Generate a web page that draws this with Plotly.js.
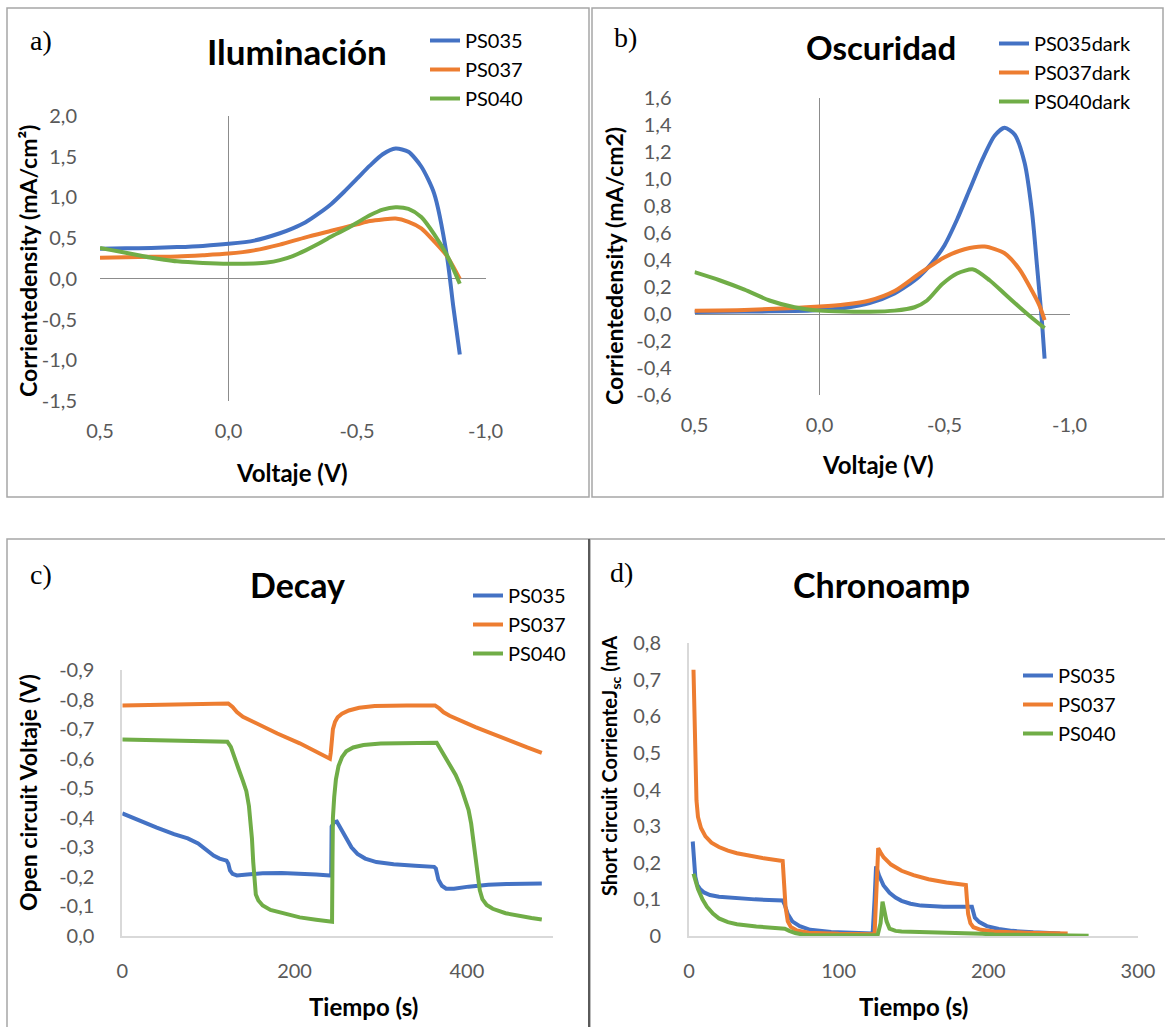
<!DOCTYPE html>
<html>
<head>
<meta charset="utf-8">
<script src="https://cdn.plot.ly/plotly-3.0.1.min.js"></script>
<style>html,body{margin:0;padding:0;background:#fff;}#chart{width:1165px;height:1027px;}</style>
</head>
<body>
<div id="chart"></div>
<script>
// ---------- Panel a: Iluminación (Voltaje V, Corriente density mA/cm2) ----------
const aV035 = [0.5, 0.4, 0.3, 0.2, 0.1, 0.0, -0.1, -0.2, -0.25, -0.3, -0.35, -0.4, -0.45, -0.5, -0.55, -0.6, -0.65, -0.7, -0.75, -0.8, -0.85, -0.875, -0.9];
const aJ035 = [0.37, 0.375, 0.38, 0.39, 0.405, 0.43, 0.47, 0.56, 0.62, 0.695, 0.80, 0.92, 1.07, 1.23, 1.39, 1.53, 1.60, 1.56, 1.38, 1.05, 0.28, -0.35, -0.93];
const aV037 = [0.5, 0.4, 0.3, 0.2, 0.1, 0.0, -0.1, -0.2, -0.3, -0.4, -0.5, -0.55, -0.6, -0.65, -0.7, -0.75, -0.8, -0.85, -0.9];
const aJ037 = [0.26, 0.265, 0.27, 0.275, 0.29, 0.31, 0.35, 0.42, 0.51, 0.59, 0.67, 0.71, 0.73, 0.74, 0.70, 0.62, 0.46, 0.28, 0.0];
const aV040 = [0.5, 0.45, 0.4, 0.35, 0.3, 0.25, 0.2, 0.1, 0.0, -0.1, -0.15, -0.2, -0.25, -0.3, -0.35, -0.4, -0.45, -0.5, -0.55, -0.6, -0.65, -0.7, -0.75, -0.8, -0.85, -0.9];
const aJ040 = [0.38, 0.35, 0.32, 0.29, 0.26, 0.235, 0.215, 0.195, 0.185, 0.19, 0.2, 0.23, 0.28, 0.35, 0.43, 0.52, 0.60, 0.69, 0.78, 0.85, 0.88, 0.86, 0.76, 0.55, 0.29, -0.06];

// ---------- Panel b: Oscuridad ----------
const bV035 = [0.5, 0.3, 0.1, 0.0, -0.1, -0.2, -0.3, -0.35, -0.4, -0.45, -0.5, -0.55, -0.6, -0.65, -0.7, -0.74, -0.78, -0.82, -0.85, -0.87, -0.89, -0.9];
const bJ035 = [0.015, 0.018, 0.022, 0.03, 0.045, 0.08, 0.153, 0.21, 0.28, 0.38, 0.51, 0.70, 0.92, 1.14, 1.32, 1.38, 1.33, 1.12, 0.75, 0.35, -0.07, -0.33];
const bV037 = [0.5, 0.3, 0.1, 0.0, -0.1, -0.2, -0.3, -0.4, -0.5, -0.58, -0.66, -0.74, -0.8, -0.85, -0.88, -0.9];
const bJ037 = [0.025, 0.03, 0.045, 0.055, 0.07, 0.1, 0.17, 0.3, 0.42, 0.48, 0.5, 0.45, 0.33, 0.17, 0.06, -0.045];
const bV040 = [0.5, 0.4, 0.3, 0.2, 0.1, 0.0, -0.1, -0.2, -0.3, -0.38, -0.43, -0.49, -0.55, -0.615, -0.68, -0.74, -0.8, -0.85, -0.9];
const bJ040 = [0.31, 0.25, 0.18, 0.1, 0.05, 0.025, 0.018, 0.017, 0.025, 0.05, 0.1, 0.22, 0.3, 0.33, 0.25, 0.15, 0.05, -0.03, -0.105];

// ---------- Panel c: Decay (Tiempo s, Open circuit Voltaje V) ----------
const cT035 = [0, 20, 40, 60, 76, 88, 98, 106, 113, 121, 123, 125, 128, 133, 145, 163, 185, 206, 225, 241, 242.5, 243, 246, 249, 254, 260, 266, 273, 282, 295, 315, 340, 362, 364, 367, 371, 376, 385, 402, 425, 446, 487];
const cV035 = [-0.415, -0.39, -0.367, -0.345, -0.33, -0.313, -0.292, -0.272, -0.262, -0.255, -0.245, -0.222, -0.21, -0.205, -0.208, -0.212, -0.213, -0.212, -0.208, -0.205, -0.205, -0.37, -0.385, -0.387, -0.36, -0.33, -0.30, -0.278, -0.262, -0.25, -0.243, -0.238, -0.234, -0.228, -0.19, -0.17, -0.16, -0.16, -0.167, -0.173, -0.176, -0.178];
const cT037 = [0, 60, 123, 128, 133, 140, 150, 163, 180, 206, 225, 241, 242, 243, 244.5, 247, 250, 255, 263, 275, 293, 330, 363, 368, 373, 380, 395, 410, 424, 450, 470, 487];
const cV037 = [-0.78, -0.785, -0.787, -0.775, -0.758, -0.742, -0.727, -0.708, -0.685, -0.652, -0.625, -0.60, -0.62, -0.66, -0.70, -0.725, -0.74, -0.752, -0.763, -0.772, -0.778, -0.78, -0.78, -0.77, -0.757, -0.745, -0.725, -0.707, -0.691, -0.66, -0.638, -0.62];
const cT040 = [0, 60, 122, 126, 130, 135, 140, 144, 147, 149, 150.5, 152, 153.5, 155, 158, 163, 172, 190, 206, 225, 243, 243.5, 244, 244.5, 246, 248, 251, 255, 260, 268, 280, 300, 365, 370, 375, 380, 387, 393, 398, 402, 405, 408, 410.5, 413, 415, 418, 423, 430, 445, 460, 475, 487];
const cV040 = [-0.665, -0.662, -0.657, -0.64, -0.61, -0.565, -0.525, -0.49, -0.44, -0.39, -0.33, -0.25, -0.18, -0.14, -0.12, -0.103, -0.088, -0.073, -0.063, -0.055, -0.048, -0.048, -0.25, -0.40, -0.47, -0.53, -0.575, -0.605, -0.625, -0.638, -0.646, -0.651, -0.654, -0.63, -0.605, -0.584, -0.545, -0.505, -0.46, -0.426, -0.38, -0.32, -0.26, -0.20, -0.155, -0.125, -0.105, -0.092, -0.077, -0.068, -0.061, -0.056];

// ---------- Panel d: Chronoamp (Tiempo s, Short circuit Jsc mA) ----------
const dT035 = [2.5, 3.5, 4.2, 5.5, 7.4, 10, 14, 20, 30, 44, 62.6, 64, 66, 69, 74, 81, 95, 110, 122.7, 124, 125, 127, 130, 134, 138, 142, 148, 155, 170, 189, 190, 191, 194, 199, 207, 216, 230, 248];
const dI035 = [0.258, 0.2, 0.162, 0.14, 0.128, 0.119, 0.112, 0.107, 0.103, 0.10, 0.097, 0.085, 0.06, 0.04, 0.027, 0.017, 0.011, 0.008, 0.007, 0.1, 0.19, 0.165, 0.138, 0.118, 0.105, 0.096, 0.088, 0.083, 0.08, 0.08, 0.065, 0.05, 0.038, 0.027, 0.019, 0.014, 0.01, 0.007];
const dT037 = [3, 3.5, 4, 5, 6, 8, 11, 15, 20, 26, 32, 40, 50, 62.6, 63.5, 64.5, 66, 68, 72, 80, 100, 124, 125.5, 126.4, 128, 130, 135, 142, 150, 160, 172, 185, 185.7, 186.5, 188, 190, 195, 204, 225, 253];
const dI037 = [0.727, 0.6, 0.48, 0.37, 0.325, 0.295, 0.272, 0.255, 0.243, 0.233, 0.226, 0.219, 0.212, 0.205, 0.15, 0.08, 0.04, 0.025, 0.015, 0.009, 0.006, 0.005, 0.15, 0.24, 0.228, 0.215, 0.195, 0.178, 0.166, 0.155, 0.146, 0.139, 0.1, 0.06, 0.035, 0.024, 0.017, 0.012, 0.009, 0.007];
const dT040 = [3, 4, 6, 9, 12, 16, 20, 26, 32, 45, 64, 67, 71, 76, 81, 126, 128, 129.3, 130.5, 132, 134, 138, 142, 188, 196, 204, 267];
const dI040 = [0.17, 0.155, 0.128, 0.1, 0.08, 0.061, 0.048, 0.038, 0.032, 0.026, 0.02, 0.014, 0.008, 0.004, 0.002, 0.002, 0.035, 0.094, 0.07, 0.04, 0.02, 0.014, 0.012, 0.009, 0.006, 0.004, 0.001];

// ---------- Tick labels ----------
const abXVals = [0.5, 0.0, -0.5, -1.0];
const abXText = ["0,5", "0,0", "-0,5", "-1,0"];
const aYVals = [2.0, 1.5, 1.0, 0.5, 0.0, -0.5, -1.0, -1.5];
const aYText = ["2,0", "1,5", "1,0", "0,5", "0,0", "-0,5", "-1,0", "-1,5"];
const bYVals = [1.6, 1.4, 1.2, 1.0, 0.8, 0.6, 0.4, 0.2, 0.0, -0.2, -0.4, -0.6];
const bYText = ["1,6", "1,4", "1,2", "1,0", "0,8", "0,6", "0,4", "0,2", "0,0", "-0,2", "-0,4", "-0,6"];
const cXVals = [0, 200, 400];
const cXText = ["0", "200", "400"];
const cYVals = [-0.9, -0.8, -0.7, -0.6, -0.5, -0.4, -0.3, -0.2, -0.1, 0.0];
const cYText = ["-0,9", "-0,8", "-0,7", "-0,6", "-0,5", "-0,4", "-0,3", "-0,2", "-0,1", "0,0"];
const dXVals = [0, 100, 200, 300];
const dXText = ["0", "100", "200", "300"];
const dYVals = [0.8, 0.7, 0.6, 0.5, 0.4, 0.3, 0.2, 0.1, 0.0];
const dYText = ["0,8", "0,7", "0,6", "0,5", "0,4", "0,3", "0,2", "0,1", "0"];

const namesABC = ["PS035", "PS037", "PS040"];
const namesB = ["PS035dark", "PS037dark", "PS040dark"];

// ---------- Build ----------
const W = 1165, H = 1027;
const px = v => v / W;
const py = v => 1 - v / H;
const COLORS = ["#4472C4", "#ED7D31", "#70AD47"];
const FONT = "Lato, 'Open Sans', sans-serif";

function tr(x, y, name, ci, xa, ya, leg, shape) {
  return {x: x, y: y, name: name, type: "scatter", mode: "lines",
    xaxis: xa, yaxis: ya, legend: leg,
    line: {color: COLORS[ci], width: 4, shape: shape || "linear", smoothing: 0.7}};
}
const data = [
  tr(aV035, aJ035, namesABC[0], 0, "x", "y", "legend", "spline"),
  tr(aV037, aJ037, namesABC[1], 1, "x", "y", "legend", "spline"),
  tr(aV040, aJ040, namesABC[2], 2, "x", "y", "legend", "spline"),
  tr(bV035, bJ035, namesB[0], 0, "x2", "y2", "legend2", "spline"),
  tr(bV037, bJ037, namesB[1], 1, "x2", "y2", "legend2", "spline"),
  tr(bV040, bJ040, namesB[2], 2, "x2", "y2", "legend2", "spline"),
  tr(cT035, cV035, namesABC[0], 0, "x3", "y3", "legend3"),
  tr(cT037, cV037, namesABC[1], 1, "x3", "y3", "legend3"),
  tr(cT040, cV040, namesABC[2], 2, "x3", "y3", "legend3"),
  tr(dT035, dI035, namesABC[0], 0, "x4", "y4", "legend4"),
  tr(dT037, dI037, namesABC[1], 1, "x4", "y4", "legend4"),
  tr(dT040, dI040, namesABC[2], 2, "x4", "y4", "legend4")
];

const tickFont = {family: FONT, size: 20, color: "#595959"};
function xax(dom, anchor, range, vals, text, line) {
  return {domain: dom, anchor: anchor, range: range, tickmode: "array", tickvals: vals, ticktext: text,
    showgrid: false, zeroline: !line, zerolinecolor: "#8c8c8c", zerolinewidth: 1,
    showline: !!line, linecolor: "#d9d9d9", linewidth: 2,
    ticks: "", ticklabelstandoff: 16, tickfont: tickFont, fixedrange: true};
}
function yax(dom, anchor, range, vals, text, line) {
  return {domain: dom, anchor: anchor, range: range, tickmode: "array", tickvals: vals, ticktext: text,
    showgrid: false, zeroline: !line, zerolinecolor: "#8c8c8c", zerolinewidth: 1,
    showline: !!line, linecolor: "#d9d9d9", linewidth: 2,
    ticks: "", ticklabelstandoff: 22, tickfont: tickFont, fixedrange: true};
}
function leg(x, y) {
  return {x: px(x), y: py(y), xanchor: "left", yanchor: "top", bgcolor: "rgba(0,0,0,0)",
    font: {family: FONT, size: 20, color: "#000"}, itemwidth: 30, tracegroupgap: 0};
}
function ann(text, x, y, size, opts) {
  return Object.assign({text: text, x: px(x), y: py(y), xref: "paper", yref: "paper",
    xanchor: "center", yanchor: "middle", showarrow: false,
    font: {family: FONT, size: size, color: "#000"}}, opts || {});
}
const serif = {family: "'Liberation Serif', 'Times New Roman', serif", size: 28, color: "#000"};

const layout = {
  width: W, height: H, margin: {l: 0, r: 0, t: 0, b: 0},
  paper_bgcolor: "#fff", plot_bgcolor: "rgba(0,0,0,0)", showlegend: true,
  xaxis: xax([px(100), px(485.5)], "y", [0.5, -1.0], abXVals, abXText),
  yaxis: yax([py(401), py(116)], "x", [-1.5, 2.0], aYVals, aYText),
  xaxis2: xax([px(694.5), px(1069.6)], "y2", [0.5, -1.0], abXVals, abXText),
  yaxis2: yax([py(395), py(98)], "x2", [-0.6, 1.6], bYVals, bYText),
  xaxis3: xax([px(122.3), px(553)], "y3", [0, 500], cXVals, cXText, true),
  yaxis3: yax([py(936), py(670)], "x3", [0, -0.9], cYVals, cYText, true),
  xaxis4: xax([px(689), px(1138)], "y4", [0, 300], dXVals, dXText, true),
  yaxis4: yax([py(936), py(643)], "x4", [0, 0.8], dYVals, dYText, true),
  legend: leg(425, 21),
  legend2: leg(994, 24),
  legend3: leg(468, 576),
  legend4: leg(1018, 656),
  annotations: [
    Object.assign(ann("a)", 41, 41, 28), {font: serif}),
    Object.assign(ann("b)", 625, 38, 28), {font: serif}),
    Object.assign(ann("c)", 41, 574, 28), {font: serif}),
    Object.assign(ann("d)", 621, 572, 28), {font: serif}),
    ann("<b>Iluminación</b>", 297, 51, 35),
    ann("<b>Oscuridad</b>", 881, 47, 33),
    ann("<b>Decay</b>", 297, 584, 34),
    ann("<b>Chronoamp</b>", 881, 584, 34),
    ann("<b>Voltaje (V)</b>", 292, 473, 24),
    ann("<b>Voltaje (V)</b>", 878, 464, 24),
    ann("<b>Tiempo (s)</b>", 363, 1006, 24),
    ann("<b>Tiempo (s)</b>", 913, 1006, 24),
    ann("<b>Corrientedensity (mA/cm²)</b>", 28, 261, 23, {textangle: -90}),
    ann("<b>Corrientedensity (mA/cm2)</b>", 614, 266, 23, {textangle: -90}),
    ann("<b>Open circuit Voltaje (V)</b>", 28, 793, 23, {textangle: -90}),
    ann("<b>Short circuit CorrienteJ<sub>sc</sub> (mA</b>", 610, 766, 20, {textangle: -90})
  ],
  shapes: [
    {type: "rect", xref: "paper", yref: "paper", x0: px(7), x1: px(589), y0: py(497), y1: py(8), line: {color: "#a6a6a6", width: 1.5}},
    {type: "rect", xref: "paper", yref: "paper", x0: px(592), x1: px(1163), y0: py(497), y1: py(8), line: {color: "#a6a6a6", width: 1.5}},
    {type: "rect", xref: "paper", yref: "paper", x0: px(7), x1: px(589), y0: py(1030), y1: py(539), line: {color: "#a6a6a6", width: 1.5}},
    {type: "rect", xref: "paper", yref: "paper", x0: px(590), x1: px(1168), y0: py(1030), y1: py(539), line: {color: "#a6a6a6", width: 1.5}},
    {type: "line", xref: "paper", yref: "paper", x0: px(589), x1: px(589), y0: py(1027), y1: py(539), line: {color: "#5a5a5a", width: 2}}
  ]
};

Plotly.newPlot("chart", data, layout, {staticPlot: true, displayModeBar: false});
</script>
</body>
</html>
